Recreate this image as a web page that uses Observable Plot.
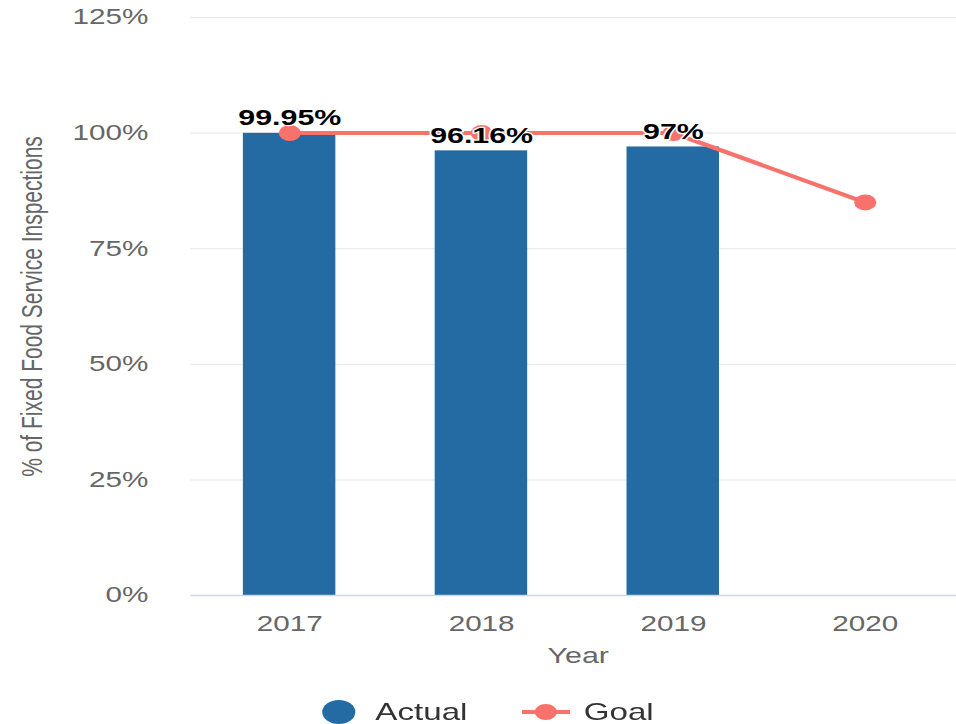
<!DOCTYPE html>
<html>
<head>
<meta charset="utf-8">
<script src="https://cdn.jsdelivr.net/npm/d3@7"></script>
<script src="https://cdn.jsdelivr.net/npm/@observablehq/plot@0.6"></script>
<style>
  html, body { margin: 0; padding: 0; background: #fff; overflow: hidden; }
  #wrap { width: 693px; transform: scaleX(1.38); transform-origin: 0 0; font-family: "Liberation Sans", Arial, sans-serif; }
  #legend { position: relative; height: 44px; width: 693px; }
  #legend .sym { position: absolute; }
  #legend .lbl { position: absolute; font-size: 24px; color: #333; line-height: 24px; }
</style>
</head>
<body>
<div id="wrap"><div id="chart"></div><div id="legend"></div></div>
<script>
const years = ["2017", "2018", "2019", "2020"];
const actual = [99.95, 96.16, 97, null];
const goal = [100, 100, 100, 85];
const yTicks = [0, 25, 50, 75, 100, 125];
const yTitle = "% of Fixed Food Service Inspections";
const xTitle = "Year";
const seriesNames = ["Actual", "Goal"];
const colors = ["#236ba2", "#f8716a"];

const rows = years.map((y, i) => ({year: y, actual: actual[i], goal: goal[i]}));
const actualRows = rows.filter(d => d.actual != null);

const font = "Liberation Sans, Arial, sans-serif";

const chart = Plot.plot({
  width: 693,
  height: 680,
  marginLeft: 138,
  marginRight: 0,
  marginTop: 17,
  marginBottom: 85,
  style: {fontFamily: font, background: "#fff", overflow: "visible"},
  x: {domain: years, range: [138, 697], paddingInner: 0.52, paddingOuter: 0.26, align: 0.5, label: null},
  y: {domain: [0, 125], label: null},
  marks: [
    Plot.ruleY(yTicks.filter(t => t > 0), {stroke: "#e6e6e6", strokeWidth: 1}),
    Plot.axisY({ticks: yTicks, tickSize: 0, tickPadding: 31, tickFormat: d => d + "%", fontSize: 21.5, color: "#666", label: null}),
    Plot.axisX({tickSize: 0, tickPadding: 20, fontSize: 21.5, color: "#666", label: null}),
    Plot.text([yTitle], {frameAnchor: "left", dx: -115, rotate: -90, fontSize: 21, fill: "#666", lineAnchor: "middle", textAnchor: "middle"}),
    Plot.text([xTitle], {frameAnchor: "bottom", dy: 60, dx: 3, fontSize: 22, fill: "#666", lineAnchor: "middle"}),
    Plot.barY(actualRows, {x: "year", y: "actual", fill: colors[0]}),
    Plot.ruleY([0], {stroke: "#ccd6eb", strokeWidth: 1.5}),
    Plot.line(rows, {x: "year", y: "goal", stroke: colors[1], strokeWidth: 4}),
    Plot.dot(rows, {x: "year", y: "goal", r: 8, fill: colors[1], stroke: "none"}),
    Plot.text(actualRows, {x: "year", y: "actual", text: d => d.actual + "%", dy: -8, lineAnchor: "bottom", fontSize: 22, fontWeight: "bold", fill: "#000", stroke: "#fff", strokeWidth: 2.5})
  ]
});
document.getElementById("chart").appendChild(chart);

// Legend
const legend = document.getElementById("legend");
const items = [
  {name: seriesNames[0], type: "circle", color: colors[0], symX: 233, lblX: 272},
  {name: seriesNames[1], type: "line", color: colors[1], symX: 378, lblX: 423}
];
items.forEach(it => {
  const ns = "http://www.w3.org/2000/svg";
  const s = document.createElementNS(ns, "svg");
  s.setAttribute("class", "sym");
  s.setAttribute("width", "36");
  s.setAttribute("height", "26");
  s.style.left = it.symX + "px";
  s.style.top = "19px";
  if (it.type === "circle") {
    const c = document.createElementNS(ns, "circle");
    c.setAttribute("cx", "12.5"); c.setAttribute("cy", "13"); c.setAttribute("r", "12");
    c.setAttribute("fill", it.color);
    s.appendChild(c);
  } else {
    const l = document.createElementNS(ns, "line");
    l.setAttribute("x1", "0"); l.setAttribute("x2", "35"); l.setAttribute("y1", "13"); l.setAttribute("y2", "13");
    l.setAttribute("stroke", it.color); l.setAttribute("stroke-width", "4");
    s.appendChild(l);
    const c = document.createElementNS(ns, "circle");
    c.setAttribute("cx", "17.5"); c.setAttribute("cy", "13"); c.setAttribute("r", "8");
    c.setAttribute("fill", it.color);
    s.appendChild(c);
  }
  legend.appendChild(s);
  const t = document.createElement("span");
  t.className = "lbl";
  t.textContent = it.name;
  t.style.left = it.lblX + "px";
  t.style.top = "20px";
  legend.appendChild(t);
});
</script>
</body>
</html>
